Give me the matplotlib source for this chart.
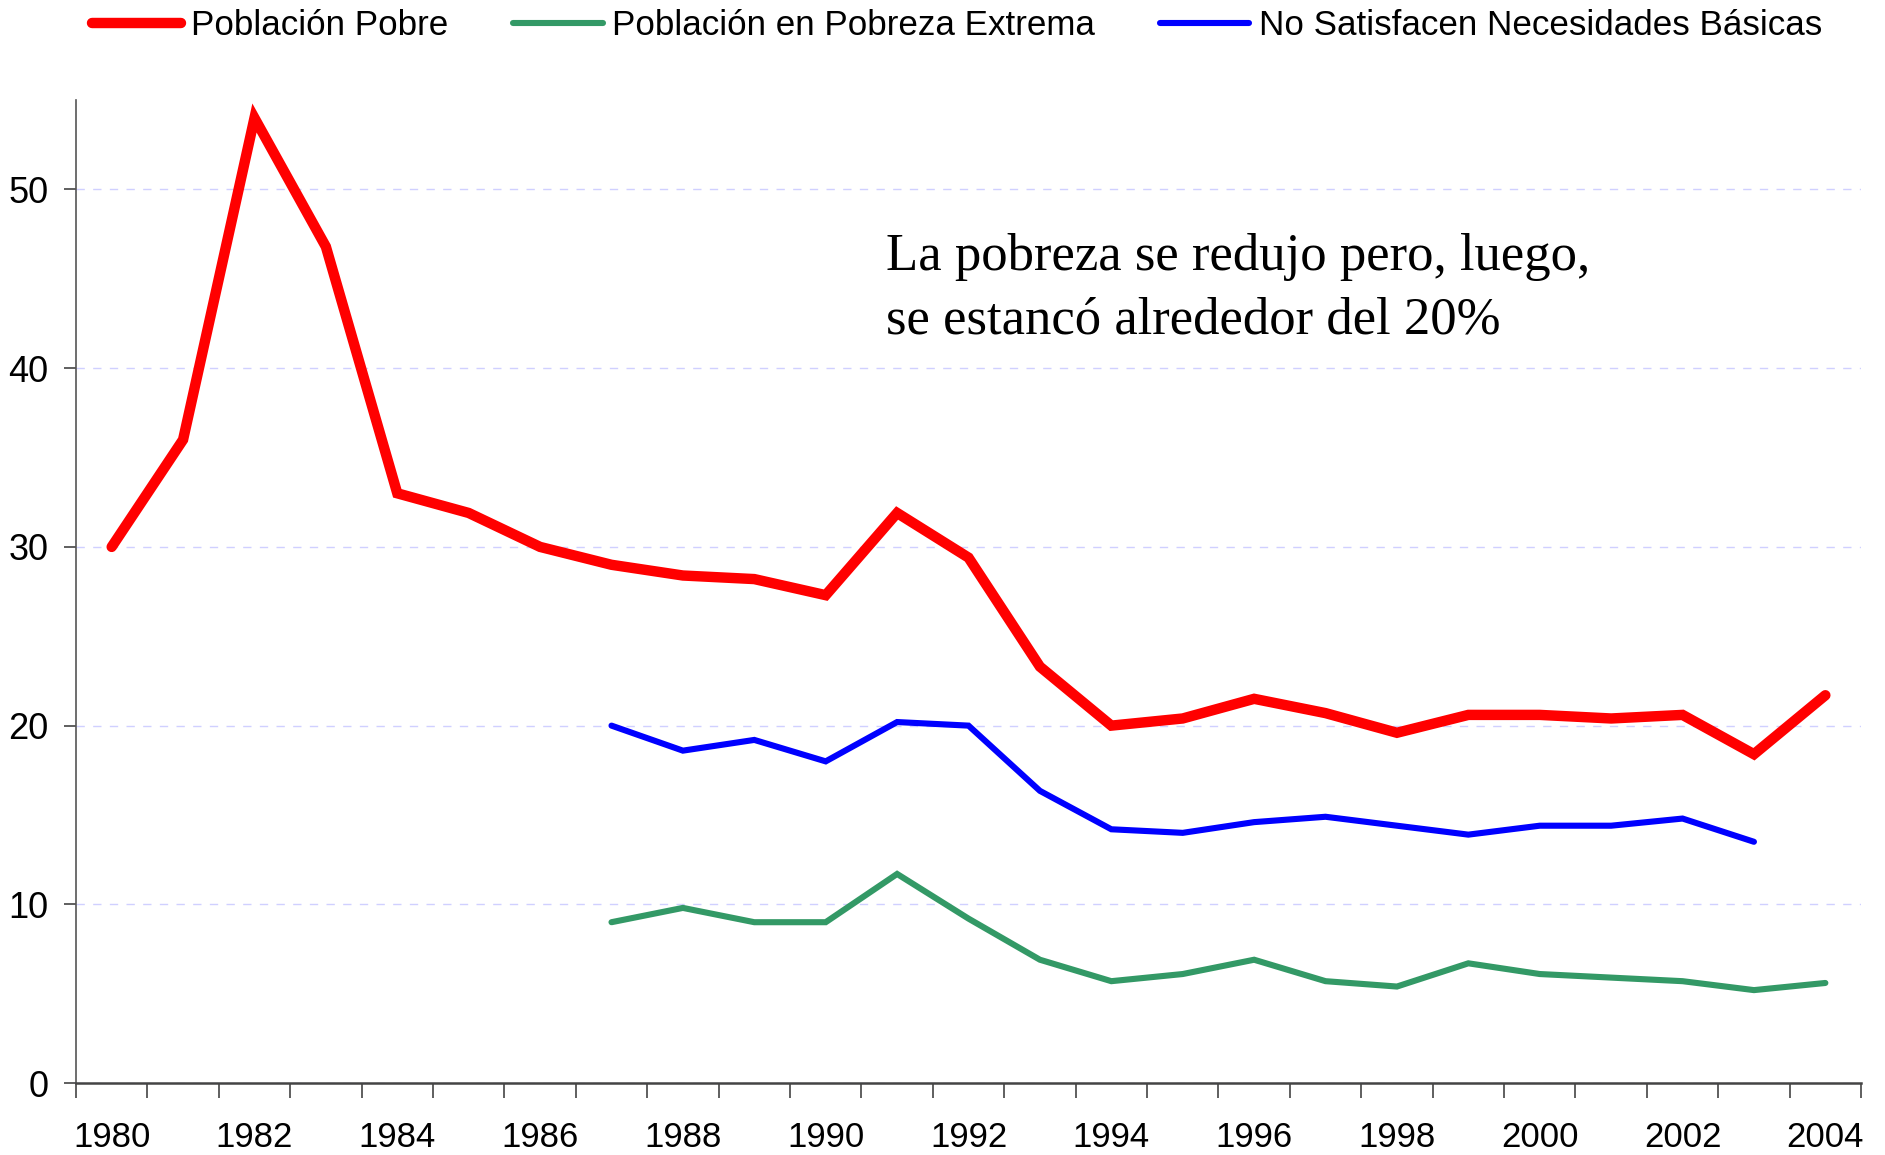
import numpy as np
import matplotlib
matplotlib.use("Agg")
import matplotlib.pyplot as plt

# data (percent of population)
years = list(range(1980, 2005))
pobre = [30.0, 36.0, 54.0, 46.8, 33.0, 31.9, 30.0, 29.0, 28.4, 28.2, 27.3, 31.9, 29.4,
         23.3, 20.0, 20.4, 21.5, 20.7, 19.6, 20.6, 20.6, 20.4, 20.6, 18.4, 21.7]

years_ext = list(range(1987, 2005))
extrema = [9.0, 9.8, 9.0, 9.0, 11.7, 9.2, 6.9, 5.7, 6.1, 6.9, 5.7, 5.4, 6.7, 6.1,
           5.9, 5.7, 5.2, 5.6]

years_nbi = list(range(1987, 2004))
nbi = [20.0, 18.6, 19.2, 18.0, 20.2, 20.0, 16.35, 14.2, 14.0, 14.6, 14.9, 14.4,
       13.9, 14.4, 14.4, 14.8, 13.5]

labels = ["Población Pobre", "Población en Pobreza Extrema",
          "No Satisfacen Necesidades Básicas"]
note = "La pobreza se redujo pero, luego,\nse estancó alrededor del 20%"

plt.rcParams['font.family'] = ['Liberation Sans', 'DejaVu Sans']

fig = plt.figure(figsize=(18.85, 11.55), dpi=100)
ax = fig.add_axes([0.0403, 0.0623, 0.947, 0.851])

l1, = ax.plot(years, pobre, color='#FF0000', lw=7.5, solid_joinstyle='miter',
              solid_capstyle='round', zorder=4)
l2, = ax.plot(years_ext, extrema, color='#339966', lw=4.4, solid_joinstyle='miter',
              solid_capstyle='round', zorder=3)
l3, = ax.plot(years_nbi, nbi, color='#0000FF', lw=4.4, solid_joinstyle='miter',
              solid_capstyle='round', zorder=3)

ax.set_xlim(1979.5, 2004.5)
ax.set_ylim(0, 55)
ax.set_yticks([0, 10, 20, 30, 40, 50])
ax.yaxis.grid(True, color='#d0d0ff', ls=(0, (6, 6)), lw=1)
ax.set_axisbelow(True)

# category axis: ticks between the years, labels every second year
ax.set_xticks(years[::2])
ax.set_xticks(np.arange(1979.5, 2005, 1), minor=True)
ax.tick_params(axis='x', which='major', length=0, pad=27, labelsize=25)
ax.tick_params(axis='x', which='minor', length=11, width=1.2, color='#444444')
ax.tick_params(axis='y', length=9, width=1.2, color='#444444', pad=11, labelsize=26)

for s in ['top', 'right']:
    ax.spines[s].set_visible(False)
ax.spines['left'].set_color('#555555')
ax.spines['bottom'].set_color('#444444')
ax.spines['left'].set_linewidth(1.2)
ax.spines['bottom'].set_linewidth(1.8)

ax.text(1990.84, 47.55, note, family=['Liberation Serif', 'DejaVu Serif'],
        fontsize=38, va='top', ha='left', linespacing=1.4)

fig.legend([l1, l2, l3], labels, loc='upper left', bbox_to_anchor=(0.0415, 1.004),
           ncol=3, frameon=False, fontsize=25.2, handlelength=2.55,
           handletextpad=0.28, columnspacing=1.85, borderaxespad=0)

fig.savefig("out.png", dpi=100)
